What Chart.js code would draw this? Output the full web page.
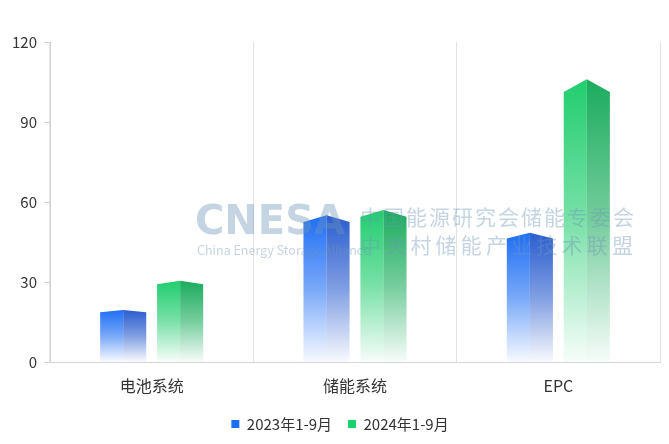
<!DOCTYPE html>
<html>
<head>
<meta charset="utf-8">
<script src="https://cdn.jsdelivr.net/npm/chart.js@4"></script>
<style>
  html, body { margin: 0; padding: 0; background: #fff; }
  #wrap { width: 669px; height: 444px; }
</style>
</head>
<body>
<div id="wrap"><canvas id="chart"></canvas></div>
<script>
// data
const categories = ['电池系统', '储能系统', 'EPC'];
const seriesNames = ['2023年1-9月', '2024年1-9月'];
const values2023 = [19.5, 55, 48.5];
const values2024 = [30.5, 57, 106];
const yTicks = [0, 30, 60, 90, 120];

// left face / right face colours per series
const faceColors = [
    { light: [30, 110, 245], dark: [42, 93, 207] },
    { light: [32, 205, 110], dark: [26, 172, 92] }
];

const FONT = '"Noto Sans CJK SC", "Noto Sans", sans-serif';

function rgba(c, a) {
    return 'rgba(' + c[0] + ',' + c[1] + ',' + c[2] + ',' + a + ')';
}

// draw each bar as a two-faced column with a pointed roof
const prismBars = {
    id: 'prismBars',
    afterDatasetsDraw(chart) {
        const ctx = chart.ctx;
        chart.data.datasets.forEach(function(ds, di) {
            const meta = chart.getDatasetMeta(di);
            const col = faceColors[di];
            meta.data.forEach(function(el) {
                const p = el.getProps(['x', 'y', 'base', 'width'], true);
                const left = p.x - p.width / 2;
                const right = p.x + p.width / 2;
                const h = p.base - p.y;
                const roof = Math.max(2, h * 0.045);
                const sh = p.y + roof;

                const gl = ctx.createLinearGradient(0, p.y, 0, p.base);
                gl.addColorStop(0, rgba(col.light, 1));
                gl.addColorStop(0.5, rgba(col.light, 0.6));
                gl.addColorStop(1, rgba(col.light, 0.04));
                const gr = ctx.createLinearGradient(0, p.y, 0, p.base);
                gr.addColorStop(0, rgba(col.dark, 1));
                gr.addColorStop(0.5, rgba(col.dark, 0.6));
                gr.addColorStop(1, rgba(col.dark, 0.04));

                ctx.save();
                ctx.beginPath();
                ctx.moveTo(left, p.base);
                ctx.lineTo(left, sh);
                ctx.lineTo(p.x, p.y);
                ctx.lineTo(p.x, p.base);
                ctx.closePath();
                ctx.fillStyle = gl;
                ctx.fill();

                ctx.beginPath();
                ctx.moveTo(p.x, p.base);
                ctx.lineTo(p.x, p.y);
                ctx.lineTo(right, sh);
                ctx.lineTo(right, p.base);
                ctx.closePath();
                ctx.fillStyle = gr;
                ctx.fill();
                ctx.restore();
            });
        });
    }
};

// faint CNESA watermark
const watermark = {
    id: 'watermark',
    afterDraw(chart) {
        const ctx = chart.ctx;
        ctx.save();
        ctx.globalAlpha = 0.4;
        ctx.fillStyle = '#6f93b8';
        ctx.textBaseline = 'middle';
        ctx.textAlign = 'left';
        ctx.font = 'bold 40px "DejaVu Sans", sans-serif';
        ctx.fillText('CNESA', 195, 224);
        ctx.font = '12.5px ' + FONT;
        ctx.fillText('China Energy Storage Alliance', 197, 250);
        ctx.font = '21px ' + FONT;
        const line1 = '中国能源研究会储能专委会';
        for (let i = 0; i < line1.length; i++) {
            ctx.fillText(line1[i], 360 + i * 23, 217);
        }
        const line2 = '中关村储能产业技术联盟';
        for (let i = 0; i < line2.length; i++) {
            ctx.fillText(line2[i], 360 + i * 25.2, 245);
        }
        ctx.restore();
    }
};

// legend sits a little right of centre in the picture
const legendShift = {
    id: 'legendShift',
    afterLayout(chart) {
        if (chart.legend) {
            chart.legend.left += 10;
            chart.legend.right += 10;
        }
    }
};

new Chart(document.getElementById('chart'), {
    type: 'bar',
    data: {
        labels: categories,
        datasets: [
            { label: seriesNames[0], data: values2023, backgroundColor: 'rgba(0,0,0,0)' },
            { label: seriesNames[1], data: values2024, backgroundColor: 'rgba(0,0,0,0)' }
        ]
    },
    options: {
        responsive: true,
        maintainAspectRatio: false,
        animation: false,
        events: [],
        categoryPercentage: 0.56,
        barPercentage: 0.81,
        layout: { padding: { top: 42, right: 9, bottom: 2.5, left: 0 } },
        plugins: {
            tooltip: { enabled: false },
            legend: {
                position: 'bottom',
                labels: {
                    color: '#333',
                    font: { family: FONT, size: 15 },
                    boxWidth: 8,
                    boxHeight: 8,
                    padding: 16,
                    generateLabels: function(chart) {
                        return chart.data.datasets.map(function(ds, i) {
                            return {
                                text: ds.label,
                                fillStyle: rgba(faceColors[i].light, 1),
                                strokeStyle: 'rgba(0,0,0,0)',
                                lineWidth: 0,
                                fontColor: '#333',
                                datasetIndex: i
                            };
                        });
                    }
                }
            }
        },
        scales: {
            x: {
                offset: true,
                grid: { offset: true, color: '#e2e2e2', drawTicks: false },
                border: { color: '#d4d4d4' },
                afterFit: function(axis) { axis.height = 38.5; },
                ticks: { color: '#333', font: { family: FONT, size: 16 }, padding: 14 }
            },
            y: {
                min: yTicks[0],
                max: yTicks[yTicks.length - 1],
                afterBuildTicks: function(axis) {
                    axis.ticks = yTicks.map(function(v) { return { value: v }; });
                },
                afterFit: function(axis) { axis.width = 50; },
                grid: { drawOnChartArea: false, color: '#d4d4d4', tickLength: 6 },
                border: { color: '#d4d4d4' },
                ticks: { color: '#333', font: { family: FONT, size: 15 }, padding: 7 }
            }
        }
    },
    plugins: [prismBars, watermark, legendShift]
});
</script>
</body>
</html>
